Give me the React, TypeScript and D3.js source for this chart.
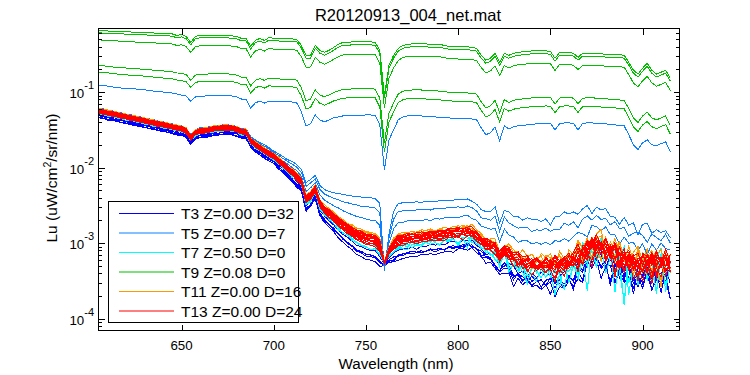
import React from "react";
import * as d3 from "d3";

// ---------------- DATA ----------------
const wavelengths: number[] = d3.range(605, 915.01, 2.5); // nm, 125 samples

// top green spectrum (upper family reference)
const upperTop = [
  0.654, 0.645, 0.645, 0.635, 0.635, 0.635, 0.626, 0.626, 0.616, 0.616,
  0.616, 0.607, 0.607, 0.598, 0.598, 0.598, 0.589, 0.562, 0.58, 0.546,
  0.455, 0.546, 0.562, 0.562, 0.562, 0.562, 0.562, 0.562, 0.562, 0.554,
  0.546, 0.514, 0.514, 0.403, 0.483, 0.514, 0.483, 0.529, 0.514, 0.514, 0.506,
  0.506, 0.506, 0.498, 0.415, 0.307, 0.307, 0.415, 0.357, 0.336, 0.357,
  0.391, 0.428, 0.455, 0.455, 0.462, 0.462, 0.462, 0.462, 0.462, 0.455,
  0.357, 0.0913, 0.226, 0.307, 0.379, 0.415, 0.428, 0.435, 0.435, 0.435,
  0.435, 0.428, 0.428, 0.428, 0.415, 0.403, 0.403, 0.397, 0.397, 0.397,
  0.391, 0.379, 0.307, 0.264, 0.28, 0.326, 0.248, 0.326, 0.307, 0.326,
  0.336, 0.341, 0.346, 0.351, 0.351, 0.351, 0.351, 0.346, 0.28, 0.336,
  0.336, 0.336, 0.326, 0.289, 0.326, 0.326, 0.326, 0.326, 0.321, 0.316,
  0.316, 0.316, 0.312, 0.307, 0.248, 0.195, 0.173, 0.207, 0.241, 0.195,
  0.173, 0.183, 0.195, 0.153,
];

// top blue (T5) spectrum of the upper family
const upperBlue = [
  0.124, 0.122, 0.12, 0.117, 0.115, 0.113, 0.112, 0.11, 0.11, 0.108,
  0.107, 0.105, 0.103, 0.102, 0.1, 0.0985, 0.097, 0.0941, 0.0913, 0.0886,
  0.075, 0.086, 0.0886, 0.0886, 0.09, 0.09, 0.09, 0.09, 0.09, 0.0886,
  0.086, 0.0809, 0.0809, 0.0616, 0.0717, 0.0761, 0.0717, 0.0761, 0.075, 0.075, 0.0739,
  0.0739, 0.0739, 0.0717, 0.0546, 0.0357, 0.0379, 0.0498, 0.0428, 0.0403, 0.0428,
  0.0455, 0.0469, 0.0483, 0.049, 0.049, 0.049, 0.049, 0.0498, 0.0498, 0.049,
  0.0368, 0.00941, 0.0233, 0.0316, 0.0428, 0.0469, 0.0483, 0.0483, 0.0483, 0.0483,
  0.0476, 0.0469, 0.0469, 0.0462, 0.0455, 0.0455, 0.0448, 0.0448, 0.0448, 0.0441,
  0.0441, 0.0428, 0.0336, 0.0272, 0.0289, 0.0346, 0.0226, 0.0357, 0.0326, 0.0346,
  0.0357, 0.0362, 0.0368, 0.0374, 0.0379, 0.0379, 0.0385, 0.0385, 0.0316, 0.0379,
  0.0391, 0.0391, 0.0385, 0.0316, 0.0385, 0.0391, 0.0391, 0.0385, 0.0379, 0.0379,
  0.0374, 0.0368, 0.0362, 0.0357, 0.0272, 0.0201, 0.0173, 0.0213, 0.0233, 0.0201,
  0.0195, 0.0207, 0.022, 0.0162,
];

// centre of the red band (lower family reference)
const lowerCenter = [
  0.0562, 0.0546, 0.0529, 0.0514, 0.0498, 0.0483, 0.0469, 0.0455, 0.0441, 0.0428,
  0.0415, 0.0403, 0.0391, 0.0379, 0.0368, 0.0357, 0.0346, 0.0336, 0.0326, 0.0307,
  0.0248, 0.0289, 0.0307, 0.0307, 0.0316, 0.0326, 0.0331, 0.0336, 0.0336, 0.0331,
  0.0321, 0.0298, 0.0298, 0.0226, 0.0201, 0.0183, 0.0167, 0.0153, 0.014, 0.0124, 0.011,
  0.0097, 0.0086, 0.00761, 0.00654, 0.00379, 0.00428, 0.00529, 0.00336, 0.0028, 0.00248,
  0.0022, 0.00195, 0.00173, 0.00158, 0.00144, 0.00131, 0.00124, 0.00117, 0.00113, 0.0011,
  0.000941, 0.000546, 0.000785, 0.00097, 0.0011, 0.00113, 0.00117, 0.00119, 0.0012, 0.00122,
  0.00124, 0.00126, 0.00128, 0.00129, 0.00131, 0.00136, 0.00138, 0.0014, 0.00142, 0.00144,
  0.0014, 0.00128, 0.0011, 0.001, 0.000941, 0.000886, 0.000654, 0.000834, 0.000739, 0.000654,
  0.000616, 0.00058, 0.000562, 0.000546, 0.000537, 0.000529, 0.000529, 0.000521, 0.000514, 0.000529,
  0.000546, 0.00058, 0.000616, 0.000675, 0.000761, 0.00086, 0.000941, 0.00097, 0.000941, 0.00086,
  0.000785, 0.000717, 0.000675, 0.000635, 0.000598, 0.000562, 0.000546, 0.000562, 0.00058, 0.000562,
  0.000546, 0.000562, 0.00058, 0.000529,
];

// highest T5 spectrum of the lower family
const lowerT5 = [
  0.0616, 0.0598, 0.058, 0.0562, 0.0546, 0.0529, 0.0514, 0.0498, 0.0483, 0.0469,
  0.0455, 0.0441, 0.0428, 0.0415, 0.0403, 0.0391, 0.0379, 0.0368, 0.0357, 0.0336,
  0.0272, 0.0316, 0.0336, 0.0336, 0.0346, 0.0357, 0.0362, 0.0368, 0.0368, 0.0362,
  0.0351, 0.0326, 0.0326, 0.0256, 0.0233, 0.0213, 0.0201, 0.0183, 0.0167, 0.0153, 0.014,
  0.0128, 0.012, 0.011, 0.00941, 0.00635, 0.00695, 0.00785, 0.0058, 0.00514, 0.00483,
  0.00469, 0.00455, 0.00441, 0.00428, 0.00421, 0.00415, 0.00409, 0.00403, 0.00397, 0.00391,
  0.00336, 0.000428, 0.00131, 0.00264, 0.00336, 0.00346, 0.00346, 0.00346, 0.00351, 0.00351,
  0.00357, 0.00357, 0.00362, 0.00362, 0.00368, 0.00368, 0.00374, 0.00374, 0.00379, 0.00379,
  0.00368, 0.00326, 0.00272, 0.00264, 0.00272, 0.00298, 0.00183, 0.0028, 0.00248, 0.00226,
  0.0022, 0.00213, 0.00207, 0.00207, 0.00201, 0.00201, 0.00207, 0.00207, 0.00213, 0.00233,
  0.00241, 0.00248, 0.00256, 0.00264, 0.00272, 0.0028, 0.00289, 0.00289, 0.0028, 0.00264,
  0.00241, 0.0022, 0.00207, 0.00195, 0.00183, 0.00173, 0.00162, 0.00173, 0.00167, 0.00153,
  0.00144, 0.00148, 0.0014, 0.00128,
];

// sensor noise pattern (relative units) and its size (decades) by wavelength band
const jitter = [
  0.3, -0.6, 0.9, -0.2, 0.5, -1.0, 0.1, 0.7, -0.4, -1.8, 0.6, 0.2, -0.7, 1.0, -0.3, 0.4,
  -1.2, 0.8, -0.1, 0.5, -0.9, 0.2, -2.2, 0.6, -0.5, 0.9, -0.3, 0.1, -0.8, 0.4, 1.0, -1.4,
  0.3, -0.2, 0.7, -0.6, 0.0, -1.1, 0.8, -0.4, 0.5, -1.7, 0.2, 0.6, -0.9, 0.3, -0.5,
];
const noiseStart = [605, 700, 765, 800, 825, 850, 865, 885];
const noiseAmp = [0.003, 0.006, 0.012, 0.025, 0.045, 0.07, 0.1, 0.12];

const seriesNames = [
  "T3 Z=0.00 D=32",
  "T5 Z=0.00 D=7",
  "T7 Z=0.50 D=0",
  "T9 Z=0.08 D=0",
  "T11 Z=0.00 D=16",
  "T13 Z=0.00 D=24",
];
const seriesColors = ["#0000ff", "#0a80ff", "#00ffff", "#00c000", "#ff9900", "#ff0000"];
const seriesNoiseGain = [1.1, 0.5, 2.1, 0, 1.3, 1.0];

// upper family: blend weight between top green (0) and top blue (1)
const upperLineSeries = [3, 3, 3, 3, 3, 1];
const upperLineWeights = [0, 0.04, 0.17, 0.64, 0.76, 1];

// lower family: blend weight toward the T5 spectrum, and level factor
const lowerLineSeries = [
  0, 0, 0, 0, 0,
  1, 1, 1,
  2, 2, 2, 2,
  4, 4, 4, 4,
  5, 5, 5, 5, 5, 5, 5, 5, 5, 5, 5, 5,
];
const lowerLineWeights = [
  -0.2, -0.3, -0.4, -0.25, -0.35,
  1, 0.77, 0.47,
  -0.15, -0.1, -0.2, -0.12,
  0.1, 0.05, 0, 0.08,
  0.06, 0.04, 0.02, 0, -0.02, -0.04, -0.06, -0.08, 0.01, -0.03, -0.1, 0.03,
];
const lowerLineFactors = [
  0.913, 0.886, 0.86, 0.834, 0.9,
  1, 1, 1,
  0.927, 0.941, 0.956, 0.97,
  1.079, 1.047, 1.031, 1.062,
  1.062, 1.047, 1.031, 1.015, 1.0, 0.985, 0.97, 0.956, 1.008, 0.978, 0.941, 1.039,
];

const xTicks = [650, 700, 750, 800, 850, 900];
const yDecades = [-4, -3, -2, -1];
const xDomain = [605, 920];
const yDomain = [6.95e-5, 0.695];

const title = "R20120913_004_net.mat";
const xLabel = "Wavelength (nm)";

// ---------------- CHART ----------------
const FONT = "'Liberation Sans', Arial, Helvetica, sans-serif";
const L = 98.5, R = 679.5, T = 28.5, B = 330.5;

function noiseAt(wl: number): number {
  let a = noiseAmp[0];
  for (let k = 0; k < noiseStart.length; k++) if (wl >= noiseStart[k]) a = noiseAmp[k];
  return a;
}

export default function App() {
  const x = d3.scaleLinear().domain(xDomain).range([L, R]);
  const y = d3.scaleLog().domain(yDomain).range([B, T]);

  type Ln = { s: number; pts: [number, number][] };
  const lines: Ln[] = [];
  upperLineSeries.forEach((s, j) => {
    const w = upperLineWeights[j];
    lines.push({
      s,
      pts: wavelengths.map((wl, i) => [wl, Math.pow(upperTop[i], 1 - w) * Math.pow(upperBlue[i], w)] as [number, number]),
    });
  });
  lowerLineSeries.forEach((s, j) => {
    const w = lowerLineWeights[j];
    const f = lowerLineFactors[j];
    lines.push({
      s,
      pts: wavelengths.map((wl, i) => {
        const lr = Math.log10(lowerCenter[i]);
        const lt = Math.log10(lowerT5[i]);
        const n = noiseAt(wl) * seriesNoiseGain[s] * jitter[(i + 13 * j) % jitter.length];
        return [wl, f * Math.pow(10, lr + w * (lt - lr) + n)] as [number, number];
      }),
    });
  });
  const ordered = lines
    .map((l, k) => ({ l, k }))
    .sort((a, b) => a.l.s - b.l.s || a.k - b.k)
    .map((o) => o.l);

  const lineGen = d3
    .line<[number, number]>()
    .x((d) => x(d[0]))
    .y((d) => y(d[1]));

  const minor: number[] = [];
  for (let e = -5; e <= 0; e++) {
    for (let m = 2; m <= 9; m++) {
      const v = m * Math.pow(10, e);
      if (v >= yDomain[0] && v <= yDomain[1]) minor.push(v);
    }
  }

  const legendRowY = [213, 232.5, 252, 271.5, 291, 310.5];

  return (
    <svg
      width={750}
      height={375}
      style={{ position: "absolute", left: 0, top: 0, background: "#fff" }}
      fontFamily={FONT}
    >
      <rect x={0} y={0} width={750} height={375} fill="#fff" />
      <defs>
        <clipPath id="plotclip">
          <rect x={L} y={T} width={R - L} height={B - T} />
        </clipPath>
      </defs>
      <g clipPath="url(#plotclip)">
        {ordered.map((l, k) => (
          <path
            key={k}
            d={lineGen(l.pts) || ""}
            fill="none"
            stroke={seriesColors[l.s]}
            strokeWidth={1}
            shapeRendering="crispEdges"
          />
        ))}
      </g>

      {/* axes box */}
      <rect x={L} y={T} width={R - L} height={B - T} fill="none" stroke="#000" strokeWidth={1} shapeRendering="crispEdges" />

      {/* x ticks */}
      {xTicks.map((t) => {
        const xx = Math.round(x(t)) + 0.5;
        return (
          <g key={t}>
            <line x1={xx} x2={xx} y1={B} y2={B - 6} stroke="#000" shapeRendering="crispEdges" />
            <line x1={xx} x2={xx} y1={T} y2={T + 6} stroke="#000" shapeRendering="crispEdges" />
            <text x={x(t)} y={349.5} fontSize={13.3} textAnchor="middle" fill="#000">
              {t}
            </text>
          </g>
        );
      })}

      {/* y ticks */}
      {yDecades.map((e) => {
        const yy = Math.round(y(Math.pow(10, e))) + 0.5;
        return (
          <g key={e}>
            <line x1={L} x2={L + 6} y1={yy} y2={yy} stroke="#000" shapeRendering="crispEdges" />
            <line x1={R} x2={R - 6} y1={yy} y2={yy} stroke="#000" shapeRendering="crispEdges" />
            <text x={94} y={yy + 5} fontSize={13.3} textAnchor="end" fill="#000">
              10
              <tspan dy={-9} fontSize={11}>
                {`-${-e}`}
              </tspan>
            </text>
          </g>
        );
      })}
      {minor.map((v, k) => {
        const yy = Math.round(y(v)) + 0.5;
        return (
          <g key={`m${k}`}>
            <line x1={L} x2={L + 3.5} y1={yy} y2={yy} stroke="#000" shapeRendering="crispEdges" />
            <line x1={R} x2={R - 3.5} y1={yy} y2={yy} stroke="#000" shapeRendering="crispEdges" />
          </g>
        );
      })}

      {/* labels */}
      <text x={408} y={21} fontSize={16.5} textAnchor="middle" fill="#000">
        {title}
      </text>
      <text x={396} y={369} fontSize={15.2} textAnchor="middle" fill="#000">
        {xLabel}
      </text>
      <text transform="translate(57,178) rotate(-90)" fontSize={15.5} textAnchor="middle" fill="#000">
        Lu (uW/cm
        <tspan dy={-6} fontSize={10.5}>
          2
        </tspan>
        <tspan dy={6}>/sr/nm)</tspan>
      </text>

      {/* legend */}
      <rect x={108.5} y={201.5} width={190} height={121} fill="#fff" stroke="#000" shapeRendering="crispEdges" />
      {seriesNames.map((name, i) => (
        <g key={name}>
          <path
            d={`M119,${legendRowY[i] + 0.5}H174`}
            stroke={seriesColors[i]}
            strokeWidth={1.2}
            fill="none"
          />
          <text x={181} y={legendRowY[i] + 6} fontSize={15.5} fill="#000">
            {name}
          </text>
        </g>
      ))}
    </svg>
  );
}
